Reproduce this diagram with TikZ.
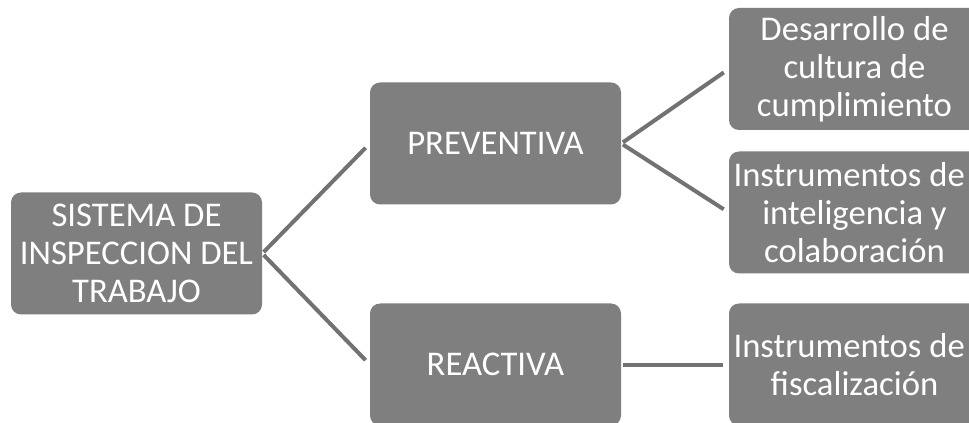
\documentclass[tikz,border=0pt]{standalone}
\usepackage{fontspec}
\setmainfont{Carlito}
\definecolor{boxgray}{HTML}{7F7F7F}
\definecolor{linegray}{HTML}{727272}
\begin{document}
\begin{tikzpicture}[x=0.75pt,y=-0.75pt,
  box/.style={fill=boxgray, rounded corners=7.5pt, minimum width=188.25pt, minimum height=91.5pt,
    inner sep=0pt, text=white, align=center, font=\fontsize{26pt}{28.5pt}\selectfont},
  conn/.style={draw=linegray, line width=3pt, shorten <=1.5pt, shorten >=4.5pt}]
\clip (0,0) rectangle (969,423);
\fill[white] (0,0) rectangle (969,423);
\node[box] (root) at (136.5,253.5) {SISTEMA DE\\INSPECCION DEL\\TRABAJO};
\node[box] (prev) at (495.5,143.5) {PREVENTIVA};
\node[box] (reac) at (495.5,364.5) {REACTIVA};
\node[box] (des) at (854.5,69) {Desarrollo de\\cultura de\\cumplimiento};
\node[box] (intel) at (854.5,212.5) {Instrumentos de\hspace*{8pt}\\inteligencia y\\colaboración};
\node[box] (fisc) at (854.5,364.5) {Instrumentos de\hspace*{8pt}\\fiscalización};
\draw[conn] (root.east) -- (prev.west);
\draw[conn] (root.east) -- (reac.west);
\draw[conn] (prev.east) -- (des.west);
\draw[conn] (prev.east) -- (intel.west);
\draw[conn] (reac.east) -- (fisc.west);
\end{tikzpicture}
\end{document}
